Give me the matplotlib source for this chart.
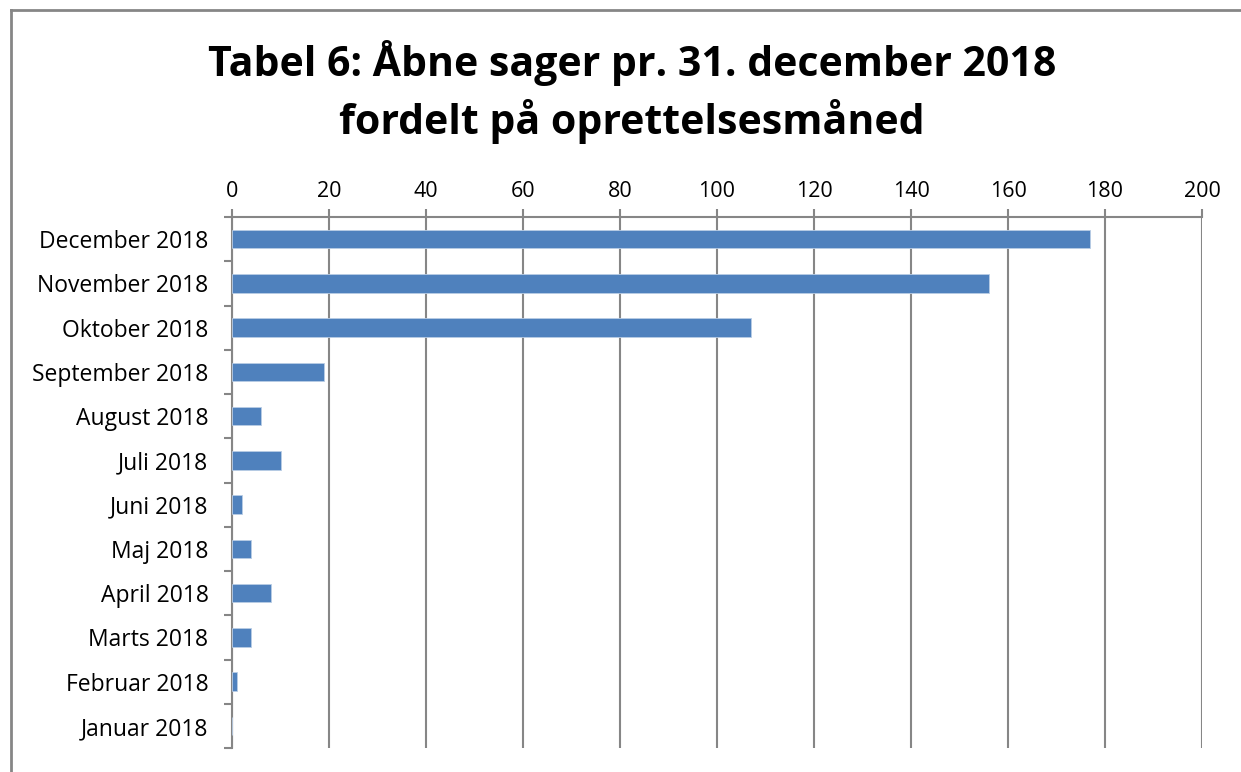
import matplotlib
matplotlib.use("Agg")
import matplotlib.pyplot as plt
from matplotlib.lines import Line2D
import numpy as np

categories = ["December 2018", "November 2018", "Oktober 2018", "September 2018",
              "August 2018", "Juli 2018", "Juni 2018", "Maj 2018", "April 2018",
              "Marts 2018", "Februar 2018", "Januar 2018"]
values = [177, 156, 107, 19, 6, 10, 2, 4, 8, 4, 1, 0]
xticks = [0, 20, 40, 60, 80, 100, 120, 140, 160, 180, 200]
title = "Tabel 6: Åbne sager pr. 31. december 2018\nfordelt på oprettelsesmåned"

plt.rcParams['font.family'] = ['Open Sans', 'DejaVu Sans']

fig = plt.figure(figsize=(12.41, 7.72), dpi=100)
ax = fig.add_axes([232/1241, 1-748/772, (1202-232)/1241, (748-217)/772])

n = len(categories)
y = np.arange(n)
ax.barh(y, values, height=0.42, color="#4F81BD", edgecolor="#B9CDE5", linewidth=0.6, zorder=3)
ax.set_ylim(n - 0.5, -0.5)
ax.set_xlim(0, 200)
ax.set_xticks(xticks)
ax.xaxis.tick_top()
ax.tick_params(axis='x', labelsize=15.5, length=5.5, color="#868686", width=1.5, pad=5)
ax.set_yticks(y)
ax.set_yticklabels(categories, fontsize=16.5)
ax.tick_params(axis='y', length=0, pad=17)
ax.set_yticks(np.arange(-0.5, n, 1), minor=True)
ax.tick_params(axis='y', which='minor', length=6, color="#868686", width=1.5)
ax.grid(axis='x', color="#868686", linewidth=1.5, zorder=0)
for s in ['right', 'bottom']:
    ax.spines[s].set_visible(False)
for s in ['top', 'left']:
    ax.spines[s].set_color("#868686")
    ax.spines[s].set_linewidth(1.5)

fig.text(632/1241, 1-92/772, title, ha='center', va='center', fontsize=29.5,
         fontweight='bold', linespacing=1.35)

bx, by = 10.5/1241, 1 - 10/772
fig.lines.append(Line2D([bx, bx], [0, by], transform=fig.transFigure,
                        color="#868686", linewidth=2))
fig.lines.append(Line2D([bx, 1], [by, by], transform=fig.transFigure,
                        color="#868686", linewidth=2))

fig.savefig("out.png", dpi=100)
